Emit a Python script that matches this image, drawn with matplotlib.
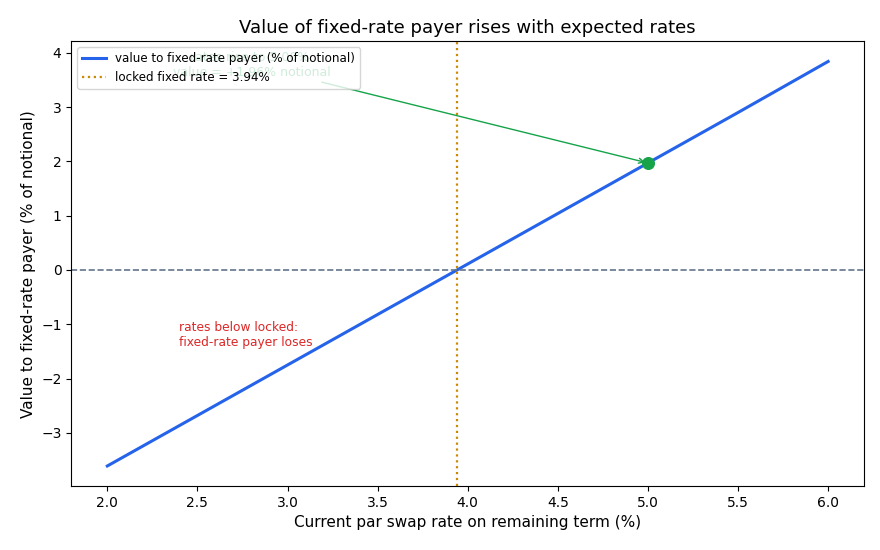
import numpy as np
import matplotlib.pyplot as plt

# stopa swapowa (%) i wartość dla płacącego stałą stopę (% nominału)
stopy = [2.0, 2.5, 3.0, 3.5, 4.0, 4.5, 5.0, 5.5, 6.0]
wartosci = [-3.61, -2.68, -1.75, -0.82, 0.11, 1.04, 1.97, 2.90, 3.84]
stopa_stala = 3.94
punkt_x, punkt_y = 5.0, 1.97

fig, ax = plt.subplots(figsize=(8.8, 5.5), dpi=100)
ax.plot(stopy, wartosci, color='#2563eb', lw=2.2, label='value to fixed-rate payer (% of notional)')
ax.axvline(stopa_stala, color='#ca8a04', ls=':', lw=1.6, label=f'locked fixed rate = {stopa_stala:.2f}%')
ax.axhline(0, color='#64748b', ls='--', lw=1.2)
ax.scatter([punkt_x], [punkt_y], color='#16a34a', s=70, zorder=5)

ax.annotate(f"rates rise to {punkt_x:.2f}%:\nvalue = +{punkt_y - 0.01:.2f}% notional",
            xy=(punkt_x, punkt_y), xytext=(2.8, 3.78), ha='center', va='center',
            color='#16a34a', fontsize=9,
            arrowprops=dict(arrowstyle='->', color='#16a34a', lw=1))
ax.text(2.4, -1.2, "rates below locked:\nfixed-rate payer loses", color='#dc2626',
        fontsize=8.8, va='center')

ax.set_title("Value of fixed-rate payer rises with expected rates", fontsize=13)
ax.set_xlabel("Current par swap rate on remaining term (%)", fontsize=11)
ax.set_ylabel("Value to fixed-rate payer (% of notional)", fontsize=11)
ax.legend(loc='upper left', fontsize=8.6)

plt.subplots_adjust(left=0.081, right=0.982, top=0.925, bottom=0.116)
plt.savefig("out.png", dpi=100)
